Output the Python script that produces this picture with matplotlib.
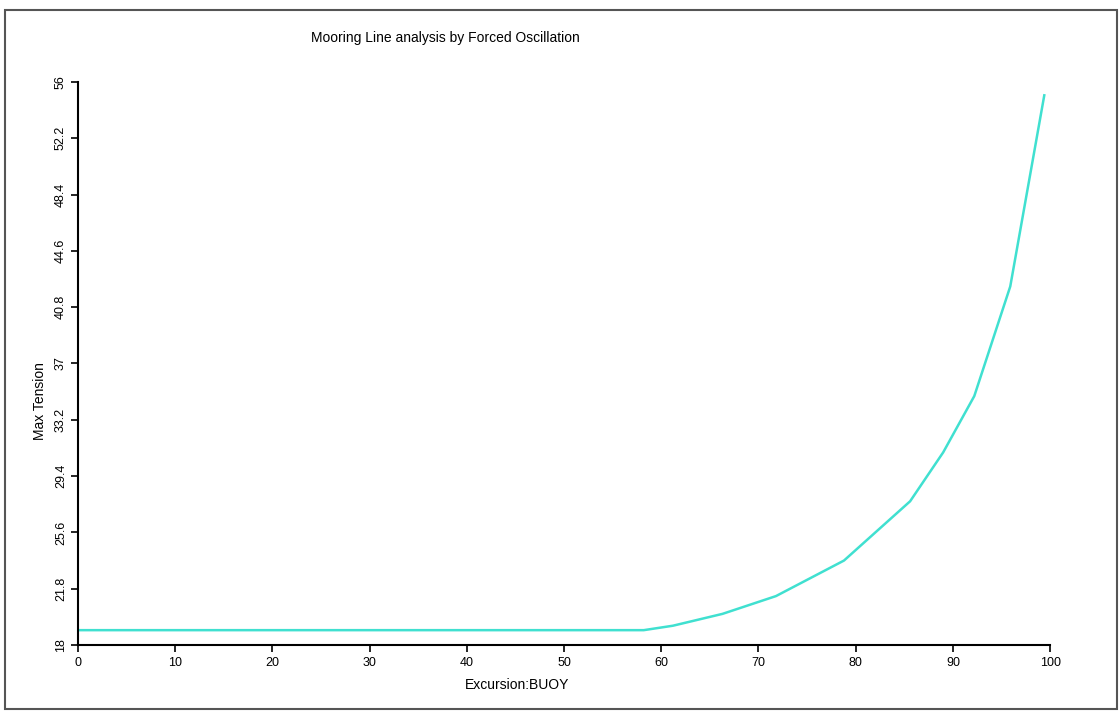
import matplotlib.pyplot as plt
from matplotlib.patches import Rectangle

# Excursion (%) vs max tension along the mooring line
excursion = [0, 58.2, 61.2, 66.3, 71.8, 78.8, 85.6, 89.0, 92.2, 95.9, 99.4]
max_tension = [19.0, 19.0, 19.3, 20.1, 21.3, 23.7, 27.7, 31.0, 34.8, 42.2, 55.1]

x_ticks = [0, 10, 20, 30, 40, 50, 60, 70, 80, 90, 100]
y_ticks = [18, 21.8, 25.6, 29.4, 33.2, 37, 40.8, 44.6, 48.4, 52.2, 56]
y_labels = ["18", "21.8", "25.6", "29.4", "33.2", "37", "40.8", "44.6", "48.4", "52.2", "56"]

plt.rcParams["font.family"] = ["Liberation Sans", "DejaVu Sans"]

fig = plt.figure(figsize=(11.2, 7.13), dpi=100)
ax = fig.add_axes([0.0696, 0.0954, 0.868, 0.7896])

ax.plot(excursion, max_tension, color="#40E0D0", linewidth=1.8)

ax.set_xlim(0, 100)
ax.set_ylim(18, 56)
ax.set_xticks(x_ticks)
ax.set_yticks(y_ticks)
ax.set_yticklabels(y_labels, rotation=90, va="center")
ax.tick_params(direction="out", length=5, width=1.2, labelsize=9)
ax.tick_params(axis="x", pad=4)
ax.tick_params(axis="y", pad=3)

for side in ["top", "right"]:
    ax.spines[side].set_visible(False)
for side in ["left", "bottom"]:
    ax.spines[side].set_linewidth(1.5)

fig.text(445 / 1120, 1 - 38 / 713, "Mooring Line analysis by Forced Oscillation",
         ha="center", va="center", fontsize=10)
fig.text(517 / 1120, 1 - 685 / 713, "Excursion:BUOY", ha="center", va="center", fontsize=10)
fig.text(40 / 1120, 1 - 401 / 713, "Max Tension", ha="center", va="center",
         rotation=90, fontsize=10)

# outer frame
fig.patches.append(Rectangle((5 / 1120, 1 - 709 / 713), 1112 / 1120, 699 / 713,
                             transform=fig.transFigure, fill=False,
                             edgecolor="#555555", linewidth=1.5))

plt.savefig("out.png", dpi=100)
